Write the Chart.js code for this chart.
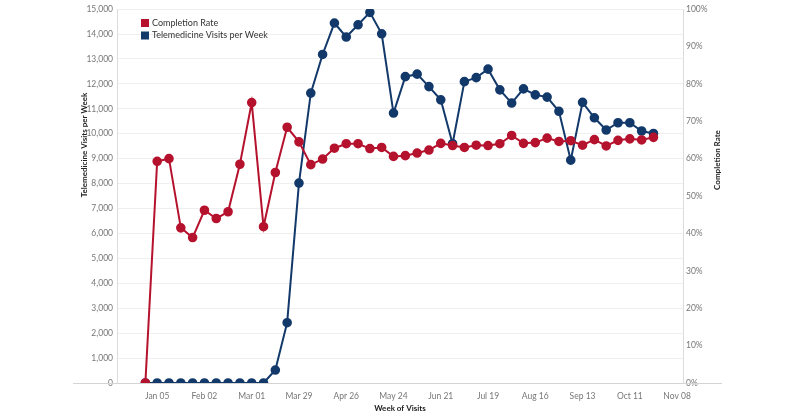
<!DOCTYPE html>
<html>
<head>
    <title>Telemedicine Visits</title>
    <script src="https://cdn.jsdelivr.net/npm/chart.js"></script>
    <style>
        body { margin: 0; background: #ffffff; }
        #wrap { width: 800px; height: 416px; position: relative; }
    </style>
</head>
<body>
<div id="wrap"><canvas id="chart"></canvas></div>
<script>
    // week start dates (x index = position in this list)
    const weeks = ['Dec 29','Jan 05','Jan 12','Jan 19','Jan 26','Feb 02','Feb 09','Feb 16','Feb 23',
        'Mar 01','Mar 08','Mar 15','Mar 22','Mar 29','Apr 05','Apr 12','Apr 19','Apr 26','May 03',
        'May 10','May 17','May 24','May 31','Jun 07','Jun 14','Jun 21','Jun 28','Jul 05','Jul 12',
        'Jul 19','Jul 26','Aug 02','Aug 09','Aug 16','Aug 23','Aug 30','Sep 06','Sep 13','Sep 20',
        'Sep 27','Oct 04','Oct 11','Oct 18','Oct 25'];

    const completionRate = [0, 59.3, 60.0, 41.5, 38.9, 46.2, 44.0, 45.8, 58.5, 75.0, 41.8, 56.3,
        68.4, 64.5, 58.4, 59.9, 62.8, 64.0, 64.0, 62.7, 63.0, 60.6, 60.8, 61.5, 62.3, 64.1, 63.5,
        63.0, 63.6, 63.5, 64.0, 66.2, 64.1, 64.3, 65.5, 64.6, 64.8, 63.6, 65.1, 63.4, 64.9, 65.3,
        65.0, 65.7];

    const visits = [0, 0, 0, 0, 0, 0, 0, 0, 0, 0, 0, 520, 2420, 8020, 11630, 13180, 14440, 13880,
        14370, 14870, 14010, 10830, 12290, 12390, 11890, 11360, 9600, 12090, 12250, 12590, 11760,
        11230, 11800, 11560, 11470, 10900, 8940, 11260, 10640, 10150, 10440, 10440, 10110, 10010];

    const tickWeeks = [1, 5, 9, 13, 17, 21, 25, 29, 33, 37, 41, 45];
    const tickLabels = ['Jan 05','Feb 02','Mar 01','Mar 29','Apr 26','May 24','Jun 21','Jul 19',
        'Aug 16','Sep 13','Oct 11','Nov 08'];

    const RED = '#b5122e';
    const BLUE = '#12396a';
    const FONT = 'Lato, "Open Sans", sans-serif';

    // axis titles, legend and the long base line, drawn like tableau does
    const extras = {
        id: 'extras',
        afterDraw(chart) {
            const ctx = chart.ctx;
            const area = chart.chartArea;
            ctx.save();
            ctx.strokeStyle = '#d4d4d4';
            ctx.lineWidth = 1;
            ctx.beginPath();
            ctx.moveTo(73, area.bottom + 0.5);
            ctx.lineTo(722, area.bottom + 0.5);
            ctx.stroke();

            ctx.fillStyle = '#222';
            ctx.font = 'bold 8px ' + FONT;
            ctx.textAlign = 'center';
            ctx.textBaseline = 'middle';
            ctx.fillText('Week of Visits', 400, 408);

            ctx.save();
            ctx.translate(84, 145);
            ctx.rotate(-Math.PI / 2);
            ctx.fillText('Telemedicine Visits per Week', 0, 0);
            ctx.restore();

            ctx.save();
            ctx.translate(717, 160);
            ctx.rotate(-Math.PI / 2);
            ctx.fillText('Completion Rate', 0, 0);
            ctx.restore();

            // legend
            ctx.font = '9px ' + FONT;
            ctx.textAlign = 'left';
            chart.data.datasets.forEach((ds, i) => {
                const y = 23 + i * 12.5;
                ctx.fillStyle = ds.borderColor;
                ctx.fillRect(141, y - 4, 8, 8);
                ctx.fillStyle = '#333';
                ctx.fillText(ds.label, 152, y);
            });
            ctx.restore();
        }
    };

    new Chart(document.getElementById('chart'), {
        type: 'line',
        data: {
            datasets: [{
                label: 'Completion Rate',
                data: completionRate.map((v, i) => ({ x: i, y: v })),
                yAxisID: 'yRate',
                borderColor: RED,
                backgroundColor: RED,
                borderWidth: 2,
                pointRadius: 3.8,
                pointHoverRadius: 3.8,
                tension: 0
            }, {
                label: 'Telemedicine Visits per Week',
                data: visits.map((v, i) => ({ x: i, y: v })),
                yAxisID: 'yVisits',
                borderColor: BLUE,
                backgroundColor: BLUE,
                borderWidth: 2,
                pointRadius: 3.8,
                pointHoverRadius: 3.8,
                tension: 0
            }]
        },
        options: {
            responsive: true,
            maintainAspectRatio: false,
            animation: false,
            layout: { padding: { top: 5, left: 0, right: 0, bottom: 0 } },
            plugins: {
                legend: { display: false },
                tooltip: { enabled: false }
            },
            scales: {
                x: {
                    type: 'linear',
                    min: -2.4,
                    max: 45.5,
                    afterBuildTicks: (scale) => {
                        scale.ticks = tickWeeks.map(v => ({ value: v }));
                    },
                    afterFit: (scale) => { scale.height = 33; },
                    ticks: {
                        callback: (v) => tickLabels[tickWeeks.indexOf(v)],
                        color: '#777',
                        font: { family: FONT, size: 8.5 },
                        maxRotation: 0,
                        autoSkip: false,
                        padding: 0
                    },
                    grid: { display: false },
                    border: { display: false }
                },
                yVisits: {
                    position: 'left',
                    min: 0,
                    max: 15000,
                    afterFit: (scale) => { scale.width = 117; },
                    ticks: {
                        stepSize: 1000,
                        callback: (v) => v.toLocaleString('en-US'),
                        color: '#777',
                        font: { family: FONT, size: 8.5 },
                        padding: 4
                    },
                    grid: { color: '#efefef', drawTicks: false },
                    border: { color: '#dcdcdc' }
                },
                yRate: {
                    position: 'right',
                    min: 0,
                    max: 100,
                    afterFit: (scale) => { scale.width = 117; },
                    ticks: {
                        stepSize: 10,
                        callback: (v) => v + '%',
                        color: '#777',
                        font: { family: FONT, size: 8.5 },
                        padding: 3
                    },
                    grid: { display: false, drawTicks: false },
                    border: { color: '#dcdcdc' }
                }
            }
        },
        plugins: [extras]
    });
</script>
</body>
</html>
